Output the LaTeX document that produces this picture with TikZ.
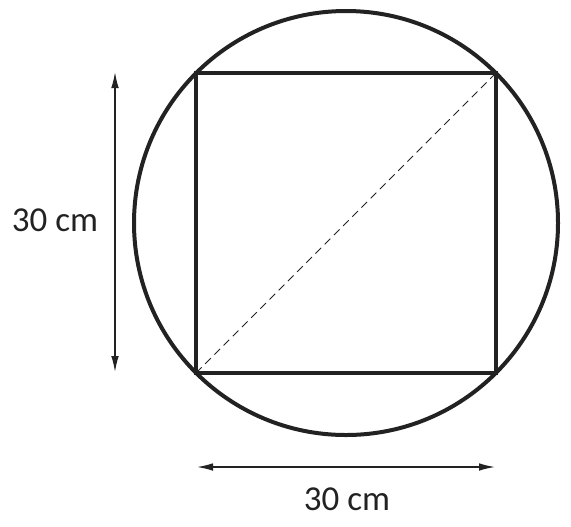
\documentclass[tikz,border=0pt]{standalone}
\usepackage{fontspec}
\setmainfont{Carlito}
\usetikzlibrary{arrows.meta}
\definecolor{ink}{HTML}{222222}
\begin{document}
\begin{tikzpicture}[
                x=0.5pt, y=-0.5pt,
                figure/.style={draw=ink, line width=2pt, line join=miter},
                diag/.style={draw=ink, line width=0.45pt, dash pattern=on 4pt off 2.5pt},
                dim/.style={draw=ink, line width=0.7pt,
                    {Latex[length=8pt,width=3.8pt]}-{Latex[length=8pt,width=3.8pt]}},
                label/.style={text=ink, font=\fontsize{17.5}{20}\selectfont},
            ]
            \useasboundingbox (0,0) rectangle (571,526);
            \coordinate (o) at (346,223);
            \coordinate (sw) at (196,373);
            \coordinate (se) at (496,373);
            \coordinate (ne) at (496,73);
            \coordinate (nw) at (196,73);
            \draw[figure] (o) circle (212);
            \draw[figure] (sw) -- (se) -- (ne) -- (nw) -- cycle;
            \draw[diag] (sw) -- (ne);
            % dimensions
            \coordinate (vtop) at (115,72);
            \coordinate (vbot) at (115,372);
            \coordinate (hleft) at (197,467);
            \coordinate (hright) at (495,467);
            \draw[dim] (vtop) -- (vbot);
            \draw[dim] (hleft) -- (hright);
            \node[label] (height) at (55,220) {30 cm};
            \node[label] (width) at (347,499) {30 cm};
            \end{tikzpicture}
\end{document}
